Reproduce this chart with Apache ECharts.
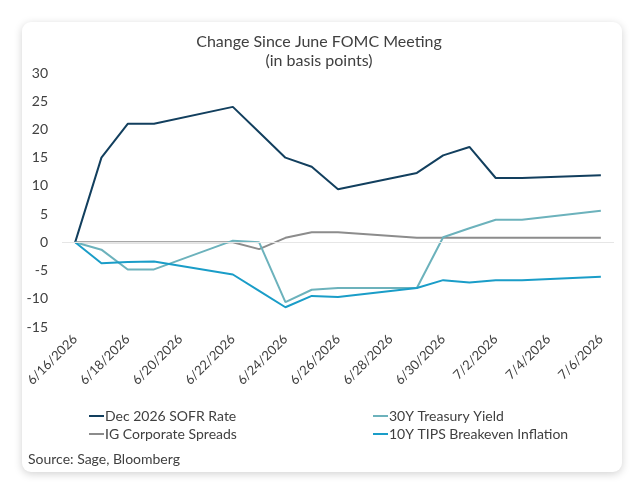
<!DOCTYPE html>
<html>
<head>
<meta charset="utf-8">
<script src="https://cdn.jsdelivr.net/npm/echarts@6/dist/echarts.min.js"></script>
<style>
  html, body { margin: 0; padding: 0; background: #fff; }
  #main { width: 638px; height: 491px; }
</style>
</head>
<body>
<div id="main"></div>
<script>
// one slot per calendar day, weekends left empty
var days = ['6/16/2026','6/17/2026','6/18/2026','6/19/2026','6/20/2026','6/21/2026','6/22/2026',
            '6/23/2026','6/24/2026','6/25/2026','6/26/2026','6/27/2026','6/28/2026','6/29/2026',
            '6/30/2026','7/1/2026','7/2/2026','7/3/2026','7/4/2026','7/5/2026','7/6/2026'];

var sofr     = [0, 15, 21, 21, null, null, 24, 19.5, 15, 13.4, 9.4, null, null, 12.3, 15.4, 16.9, 11.4, 11.4, null, null, 11.9];
var treasury = [0, -1.3, -4.8, -4.8, null, null, 0.3, 0, -10.6, -8.4, -8.1, null, null, -8.1, 0.9, 2.5, 4.0, 4.0, null, null, 5.6];
var igSpread = [0, 0, 0, 0, null, null, 0, -1.2, 0.8, 1.8, 1.8, null, null, 0.8, 0.8, 0.8, 0.8, 0.8, null, null, 0.8];
var tips     = [0, -3.7, -3.5, -3.4, null, null, -5.7, -8.6, -11.5, -9.5, -9.7, null, null, -8.1, -6.7, -7.1, -6.7, -6.7, null, null, -6.1];

var FONT = 'Lato';
var TXT = '#404040';

var myChart = echarts.init(document.getElementById('main'));

function lineSeries(name, data, color) {
    return {
        name: name,
        type: 'line',
        data: data,
        connectNulls: true,
        showSymbol: false,
        symbol: 'none',
        lineStyle: { color: color, width: 2 },
        itemStyle: { color: color },
        emphasis: { disabled: true }
    };
}

var zeroLine = lineSeries('IG Corporate Spreads', igSpread, '#8c8c8c');
zeroLine.markLine = {
    silent: true,
    symbol: 'none',
    label: { show: false },
    lineStyle: { color: '#e6e6e6', width: 1, type: 'solid' },
    data: [{ yAxis: 0 }]
};

option = {
    animation: false,
    textStyle: { fontFamily: FONT },
    graphic: [
        {
            type: 'rect',
            z: -10,
            shape: { x: 22, y: 22, width: 600, height: 450, r: 9 },
            style: { fill: '#fff', shadowBlur: 8, shadowColor: 'rgba(0,0,0,0.18)', shadowOffsetY: 2 }
        },
        {
            type: 'text',
            left: 28,
            top: 452,
            style: { text: 'Source: Sage, Bloomberg', fill: TXT, font: '14px ' + FONT }
        }
    ],
    title: {
        text: 'Change Since June FOMC Meeting',
        subtext: '(in basis points)',
        left: 'center',
        top: 29,
        itemGap: 3,
        textStyle: { fontFamily: FONT, fontSize: 16, fontWeight: 'normal', color: TXT },
        subtextStyle: { fontFamily: FONT, fontSize: 16, color: TXT }
    },
    legend: [
        {
            data: ['Dec 2026 SOFR Rate', 'IG Corporate Spreads'],
            orient: 'vertical',
            left: 84,
            top: 404,
            itemGap: 4,
            itemWidth: 15,
            itemHeight: 2,
            icon: 'rect',
            textStyle: { fontFamily: FONT, fontSize: 14, color: TXT, padding: [0, 0, 0, -4] }
        },
        {
            data: ['30Y Treasury Yield', '10Y TIPS Breakeven Inflation'],
            orient: 'vertical',
            left: 368,
            top: 404,
            itemGap: 4,
            itemWidth: 15,
            itemHeight: 2,
            icon: 'rect',
            textStyle: { fontFamily: FONT, fontSize: 14, color: TXT, padding: [0, 0, 0, -4] }
        }
    ],
    grid: {
        left: 62,
        right: 24,
        top: 73,
        bottom: 164,
        containLabel: false
    },
    xAxis: {
        type: 'category',
        data: days,
        boundaryGap: true,
        axisLine: { show: false },
        axisTick: { show: false },
        axisLabel: {
            interval: 1,
            rotate: 45,
            margin: 10,
            fontFamily: FONT,
            fontSize: 13,
            color: TXT
        }
    },
    yAxis: {
        type: 'value',
        min: -15,
        max: 30,
        interval: 5,
        splitLine: { show: false },
        axisLine: { show: false },
        axisTick: { show: false },
        axisLabel: { margin: 14, fontFamily: FONT, fontSize: 14, color: TXT }
    },
    series: [
        zeroLine,
        lineSeries('Dec 2026 SOFR Rate', sofr, '#123f5e'),
        lineSeries('30Y Treasury Yield', treasury, '#6cb2bc'),
        lineSeries('10Y TIPS Breakeven Inflation', tips, '#1a9dc8')
    ]
};

if (option && typeof option === "object") {
    myChart.setOption(option, true);
}
</script>
</body>
</html>
